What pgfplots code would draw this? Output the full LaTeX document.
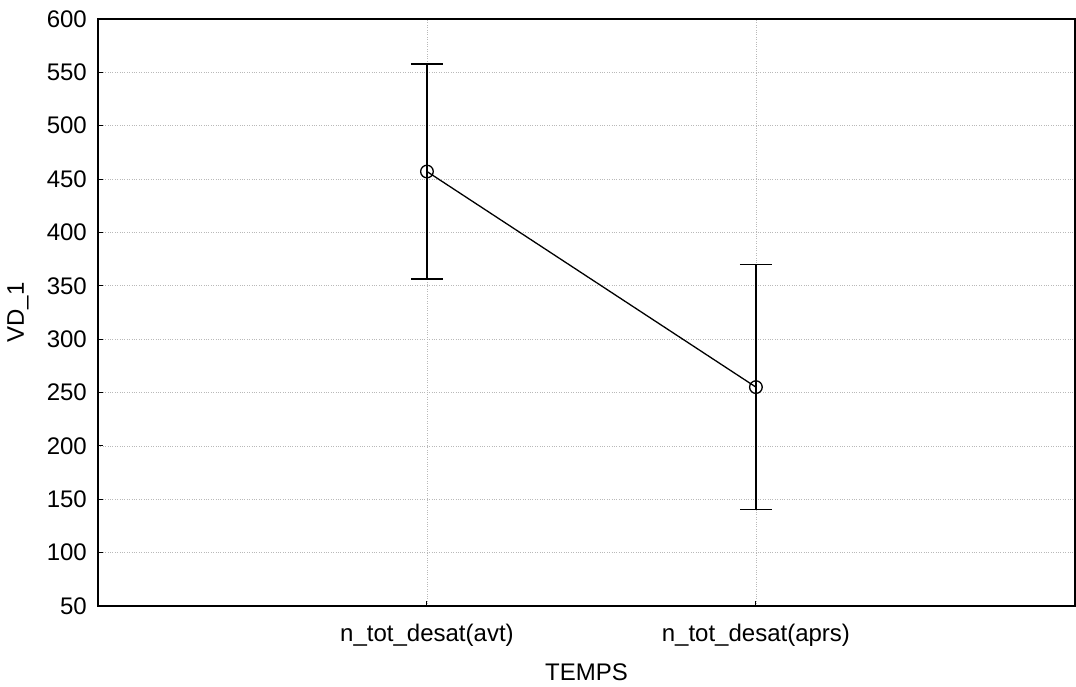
\documentclass[border=0pt]{standalone}
\usepackage{fontspec}
\setmainfont{Liberation Sans}
\usepackage{pgfplots}
\pgfplotsset{compat=1.18}
\begin{document}
\fontsize{24}{28}\selectfont
\begin{tikzpicture}
\useasboundingbox (0,0) rectangle (1076pt,686pt);
\begin{axis}[
  at={(98pt,80pt)}, anchor=south west,
  scale only axis, width=977pt, height=587pt,
  xmin=-1, xmax=1.97, ymin=50, ymax=600,
  xtick={0,1}, xticklabels={n\_tot\_desat(avt), n\_tot\_desat(aprs)},
  ytick={50,100,...,600},
  /pgf/number format/assume math mode=true,
  ticklabel style={font=\fontsize{24}{28}\selectfont},
  label style={font=\fontsize{24}{28}\selectfont},
  xlabel={TEMPS}, ylabel={VD\_1},
  xlabel style={at={(axis description cs:0.5,-0.112)}, anchor=center},
  ylabel style={at={(axis description cs:-0.082,0.5)}, anchor=center},
  xticklabel style={yshift=-10pt},
  yticklabel style={xshift=-3pt},
  grid=major,
  major grid style={gray!55, dotted, line width=0.8pt},
  axis line style={line width=1.3pt},
  tick style={black, line width=1pt},
  major tick length=5pt,
  tick align=inside,
  xtick pos=bottom, ytick pos=left,
  every axis plot/.append style={line width=1.3pt},
]
\addplot[black, mark=o, mark size=6.3pt, mark options={fill=white, line width=1.3pt},
  error bars/.cd, y dir=both, y explicit,
  error bar style={line width=1.4pt},
  error mark options={rotate=90, mark size=16pt, line width=1.4pt}]
  coordinates {
  (0,457.1) +- (0,100.8)
  (1,255.1) +- (0,114.8)
  };
\end{axis}
\end{tikzpicture}
\end{document}
